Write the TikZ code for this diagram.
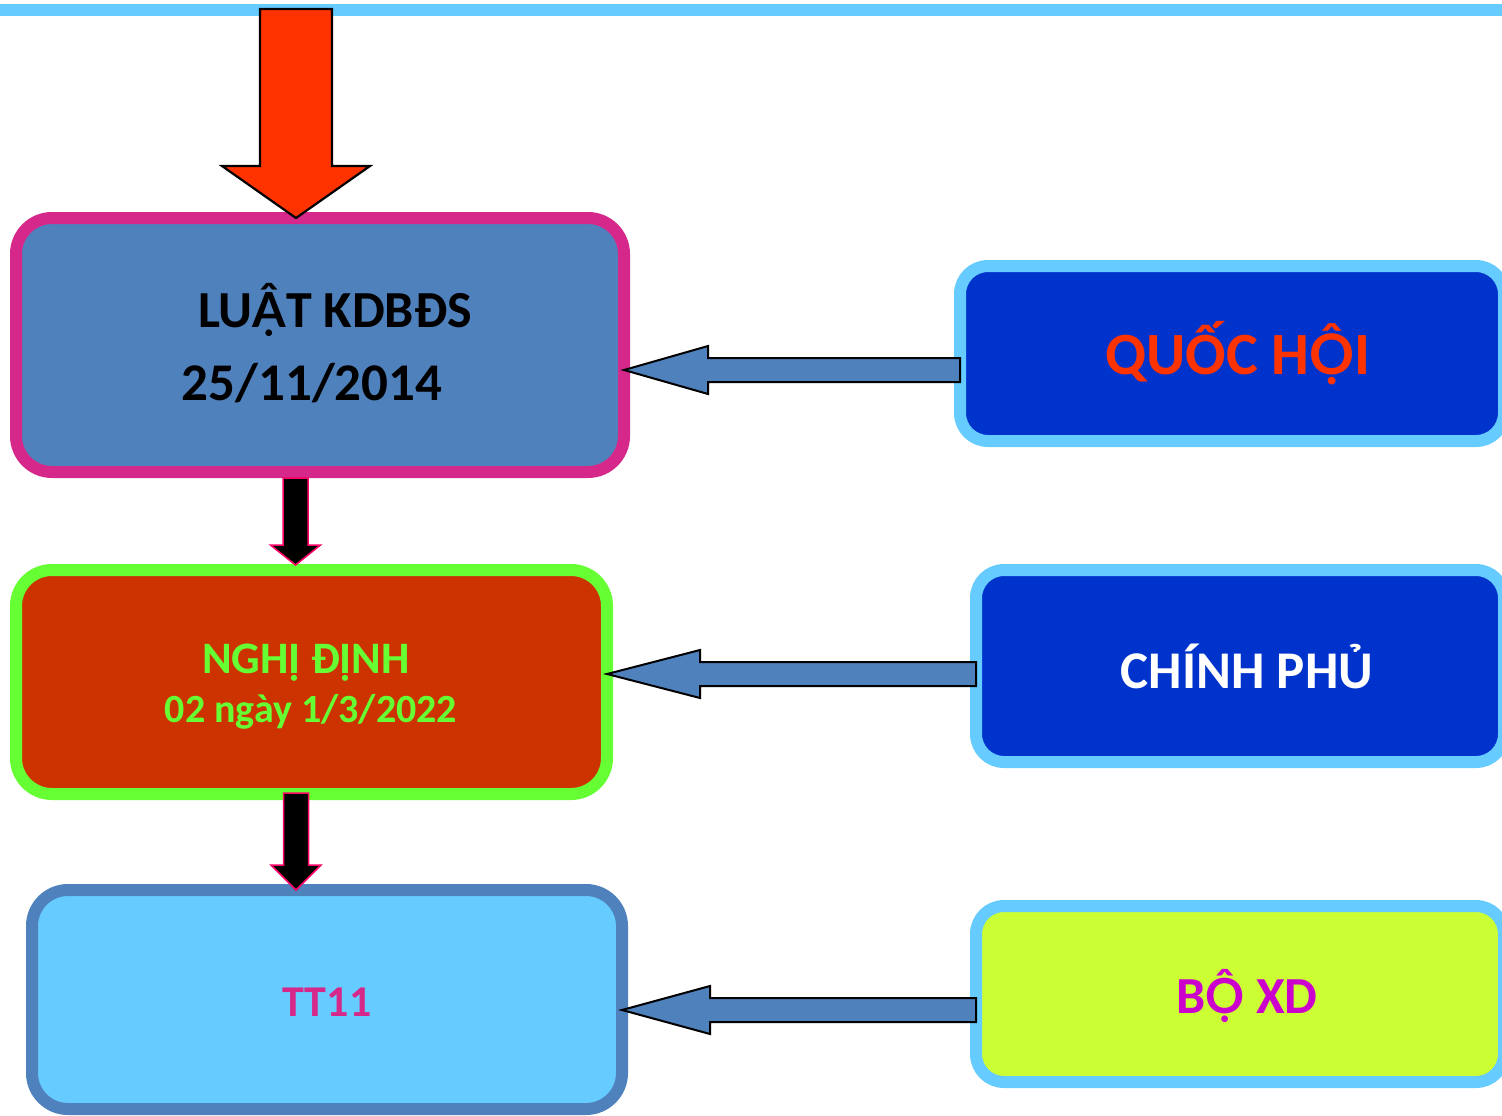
\documentclass[tikz,border=0pt]{standalone}
\usepackage{fontspec}
\setmainfont{Carlito}
% Lato carries the stacked Vietnamese capitals with both marks
\newfontfamily\stackfont{Lato}[Scale=0.93]
\newcommand\stk[1]{{\stackfont\bfseries #1}}
\usetikzlibrary{calc}

\definecolor{skyblue}{HTML}{66CCFF}
\definecolor{steel}{HTML}{4F81BD}
\definecolor{rosepink}{HTML}{D6288A}
\definecolor{brick}{HTML}{CC3300}
\definecolor{lime}{HTML}{66FF33}
\definecolor{royal}{HTML}{0033CC}
\definecolor{chartreuse}{HTML}{CCFF33}
\definecolor{flame}{HTML}{FF3300}
\definecolor{violetpink}{HTML}{CC00CC}
\definecolor{hotred}{HTML}{FF0066}

% left-pointing block arrow from node #1 (tail side) to node #2 (tip side);
% #3 = vertical offset from the centre of #1, #4 = head length, #5 = name prefix
\newcommand\leftblockarrow[5]{%
  \coordinate (#5s) at ($(#1.west)+(0,#3)$);
  \coordinate (#5t) at (#2.east |- #5s);
  \draw[bluearrow] (#5t) -- ($(#5t)+(#4,-24)$) -- ($(#5t)+(#4,-12)$)
    -- ($(#5s)+(0,-12)$) -- ($(#5s)+(0,12)$) -- ($(#5t)+(#4,12)$)
    -- ($(#5t)+(#4,24)$) -- cycle;
}
% down-pointing narrow block arrow between two named points
\newcommand\downblockarrow[3]{%
  \draw[blackarrow] ($(#1)+(-12.5,0)$) -- ($(#1)+(12.5,0)$)
    -- ($(#2)+(12.5,-#3)$) -- ($(#2)+(25,-#3)$) -- (#2)
    -- ($(#2)+(-25,-#3)$) -- ($(#2)+(-12.5,-#3)$) -- cycle;
}

\begin{document}
\begin{tikzpicture}[x=1pt,y=-1pt,
  box/.style={draw, line width=12pt, rounded corners=36pt, inner sep=0pt, outer sep=0pt},
  sidebox/.style={draw=skyblue, line width=12pt, rounded corners=28pt, inner sep=0pt, outer sep=0pt},
  bluearrow/.style={fill=steel, draw=black, line width=2pt, line join=miter},
  blackarrow/.style={fill=black, draw=hotred, line width=1.5pt, line join=miter},
  redarrow/.style={fill=flame, draw=black, line width=2.2pt, line join=miter},
  label/.style={anchor=base, inner sep=0pt, font=\bfseries}]

\useasboundingbox (0,0) rectangle (1502,1116);
\clip (0,0) rectangle (1502,1116);

% rule along the top edge
\fill[skyblue] (0,4) rectangle (1502,16);

% document boxes on the left
\node[box, draw=rosepink, fill=steel, minimum width=608pt, minimum height=254pt]
  (luat) at (320,345) {};
\node[box, draw=lime, fill=brick, minimum width=591pt, minimum height=224pt]
  (nghidinh) at (311.5,682) {};
\node[box, draw=steel, fill=skyblue, minimum width=590pt, minimum height=219pt]
  (tt) at (327,999.5) {};

% issuing bodies on the right
\node[sidebox, fill=royal, minimum width=544pt, minimum height=175pt]
  (quochoi) at (1232,353.5) {};
\node[sidebox, fill=royal, minimum width=528pt, minimum height=192pt]
  (chinhphu) at (1240,666) {};
\node[sidebox, fill=chartreuse, minimum width=528pt, minimum height=176pt]
  (boxd) at (1240,994) {};

% labels
\node[label, text=black, font=\bfseries\fontsize{52}{60}\selectfont]
  (luatA) at (335,327) {LU\stk{Ậ}T KDBĐS};
\node[label, text=black, font=\bfseries\fontsize{53}{60}\selectfont]
  (luatB) at (312,400) {25/11/2014};
\node[label, text=lime, font=\bfseries\fontsize{45}{52}\selectfont]
  (ndA) at (306,673) {NGHỊ ĐỊNH};
\node[label, text=lime, font=\bfseries\fontsize{40}{46}\selectfont]
  (ndB) at (311,722) {02 ngày 1/3/2022};
\node[label, text=rosepink, font=\bfseries\fontsize{44}{50}\selectfont]
  (ttA) at (327,1016) {TT11};
\node[label, text=flame, font=\bfseries\fontsize{60}{70}\selectfont]
  (qhA) at (1238,374) {QUỐC H\stk{Ộ}I};
\node[label, text=white, font=\bfseries\fontsize{53}{60}\selectfont]
  (cpA) at (1247,688) {CHÍNH PHỦ};
\node[label, text=violetpink, font=\bfseries\fontsize{52}{60}\selectfont]
  (bxdA) at (1247,1013) {B\stk{Ộ} XD};

% big arrow entering the law box from above
\coordinate (redtip) at ($(luat.north)+(-24,0)$);
\coordinate (redtop) at (redtip |- 0,9);
\draw[redarrow] ($(redtop)+(-36,0)$) -- ($(redtop)+(36,0)$)
  -- ($(redtip)+(36,-52)$) -- ($(redtip)+(74,-52)$) -- (redtip)
  -- ($(redtip)+(-74,-52)$) -- ($(redtip)+(-36,-52)$) -- cycle;

% downward arrows between the documents
\coordinate (d1top) at ($(luat.south)+(-24.5,6)$);
\coordinate (d1tip) at ($(d1top |- nghidinh.north)+(0,-5)$);
\downblockarrow{d1top}{d1tip}{20}
\coordinate (d2top) at ($(nghidinh.south)+(-15.5,-1)$);
\coordinate (d2tip) at (d2top |- tt.north);
\downblockarrow{d2top}{d2tip}{25}

% arrows from each body to its document
\leftblockarrow{quochoi}{luat}{16.5}{84}{aone}
\leftblockarrow{chinhphu}{nghidinh}{8}{93}{atwo}
\leftblockarrow{boxd}{tt}{16}{88}{athree}

\end{tikzpicture}
\end{document}
